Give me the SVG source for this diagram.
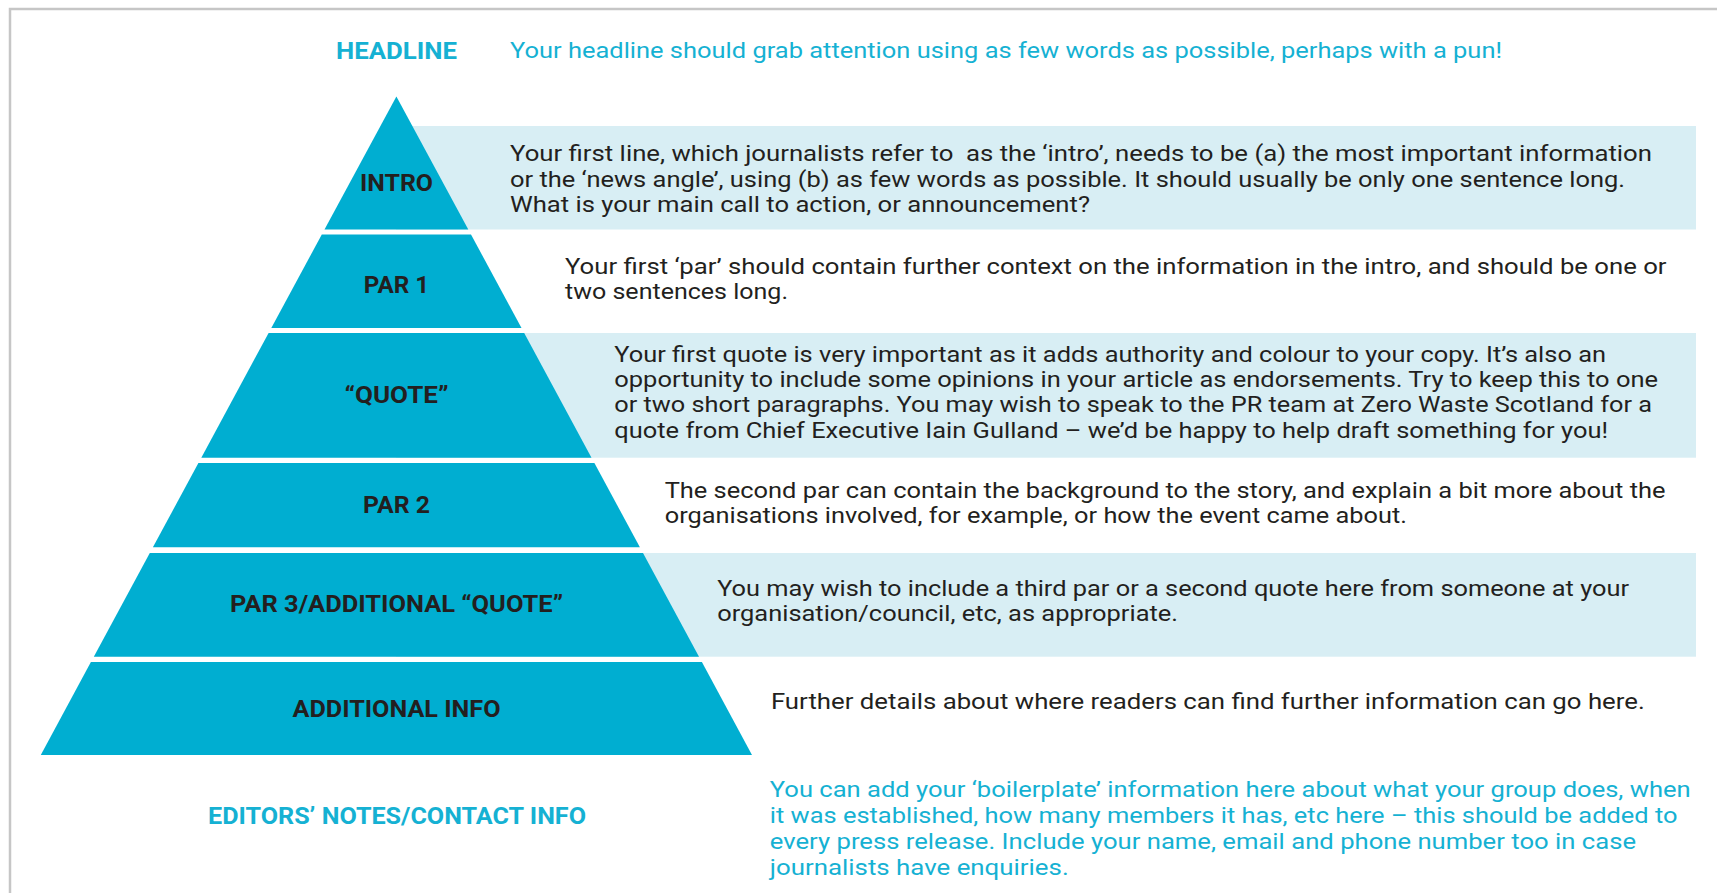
<svg xmlns="http://www.w3.org/2000/svg" width="1717" height="893" viewBox="0 0 1717 893">
<style>
.tri{fill:#00aed1}
.band{fill:#d8eef4}
.lbl{font-family:Roboto,"Liberation Sans",sans-serif;font-weight:bold;font-size:24px;fill:#231f20;text-anchor:middle}
.clbl{font-family:Roboto,"Liberation Sans",sans-serif;font-weight:bold;font-size:24px;fill:#15b1d3;text-anchor:middle}
.body{font-family:Roboto,"Liberation Sans",sans-serif;font-size:22.5px;fill:#231f20}
.cbody{font-family:Roboto,"Liberation Sans",sans-serif;font-size:22.5px;fill:#15b1d3}
.frame{fill:none;stroke:#c6c6c6;stroke-width:2.5}
</style>
<rect width="1717" height="893" fill="#ffffff"/>
<path class="frame" d="M10,893 V9 H1717"/>
<g id="bands">
<rect class="band" x="396" y="126" width="1300" height="103.5"/>
<rect class="band" x="396" y="333" width="1300" height="124.7"/>
<rect class="band" x="396" y="553" width="1300" height="103.7"/>
</g>
<g id="connectors"/>
<g id="headline">
<text class="clbl" x="396.5" y="58.5" textLength="121" lengthAdjust="spacingAndGlyphs">HEADLINE</text>
<text class="cbody" x="510" y="57.5" textLength="992" lengthAdjust="spacingAndGlyphs">Your headline should grab attention using as few words as possible, perhaps with a pun!</text>
</g>
<g id="intro">
<polygon class="tri" points="396.4,96.4 468.3,229.5 324.5,229.5"/>
<text class="lbl" x="396.5" y="190.5" textLength="73" lengthAdjust="spacingAndGlyphs">INTRO</text>
<text class="body" x="510" y="161" textLength="1142" lengthAdjust="spacingAndGlyphs" xml:space="preserve">Your first line, which journalists refer to  as the ‘intro’, needs to be (a) the most important information</text>
<text class="body" x="510" y="186.5" textLength="1115" lengthAdjust="spacingAndGlyphs">or the ‘news angle’, using (b) as few words as possible. It should usually be only one sentence long.</text>
<text class="body" x="510" y="212" textLength="580" lengthAdjust="spacingAndGlyphs">What is your main call to action, or announcement?</text>
</g>
<g id="par1">
<polygon class="tri" points="321.8,234.5 471,234.5 521.5,328 271.3,328"/>
<text class="lbl" x="396.5" y="292.5" textLength="65.5" lengthAdjust="spacingAndGlyphs">PAR 1</text>
<text class="body" x="565" y="273.5" textLength="1101.5" lengthAdjust="spacingAndGlyphs">Your first ‘par’ should contain further context on the information in the intro, and should be one or</text>
<text class="body" x="565" y="299" textLength="223" lengthAdjust="spacingAndGlyphs">two sentences long.</text>
</g>
<g id="quote">
<polygon class="tri" points="268.6,333 524.2,333 591.5,457.7 201.3,457.7"/>
<text class="lbl" x="396.5" y="403" textLength="104" lengthAdjust="spacingAndGlyphs">“QUOTE”</text>
<text class="body" x="614.3" y="361.5" textLength="991.7" lengthAdjust="spacingAndGlyphs">Your first quote is very important as it adds authority and colour to your copy. It’s also an</text>
<text class="body" x="614.3" y="387" textLength="1043.7" lengthAdjust="spacingAndGlyphs">opportunity to include some opinions in your article as endorsements. Try to keep this to one</text>
<text class="body" x="614.3" y="412" textLength="1037.7" lengthAdjust="spacingAndGlyphs">or two short paragraphs. You may wish to speak to the PR team at Zero Waste Scotland for a</text>
<text class="body" x="614.3" y="437.5" textLength="993.7" lengthAdjust="spacingAndGlyphs">quote from Chief Executive Iain Gulland – we’d be happy to help draft something for you!</text>
</g>
<g id="par2">
<polygon class="tri" points="198.4,463 594.4,463 639.9,547.3 152.9,547.3"/>
<text class="lbl" x="396.5" y="512.5" textLength="67" lengthAdjust="spacingAndGlyphs">PAR 2</text>
<text class="body" x="664.7" y="498" textLength="1000.8" lengthAdjust="spacingAndGlyphs">The second par can contain the background to the story, and explain a bit more about the</text>
<text class="body" x="664.7" y="523" textLength="742.3" lengthAdjust="spacingAndGlyphs">organisations involved, for example, or how the event came about.</text>
</g>
<g id="par3">
<polygon class="tri" points="149.8,553 643,553 699,656.7 93.8,656.7"/>
<text class="lbl" x="396.5" y="612" textLength="333" lengthAdjust="spacingAndGlyphs">PAR 3/ADDITIONAL “QUOTE”</text>
<text class="body" x="717.2" y="595.5" textLength="911.8" lengthAdjust="spacingAndGlyphs">You may wish to include a third par or a second quote here from someone at your</text>
<text class="body" x="717.2" y="620.7" textLength="460.8" lengthAdjust="spacingAndGlyphs">organisation/council, etc, as appropriate.</text>
</g>
<g id="additional">
<polygon class="tri" points="90.9,662 701.9,662 752,755 40.8,755"/>
<text class="lbl" x="396.5" y="717" textLength="208" lengthAdjust="spacingAndGlyphs">ADDITIONAL INFO</text>
<text class="body" x="770.9" y="709.4" textLength="873.8" lengthAdjust="spacingAndGlyphs">Further details about where readers can find further information can go here.</text>
</g>
<g id="editors">
<text class="clbl" x="397" y="823.5" textLength="378" lengthAdjust="spacingAndGlyphs">EDITORS’ NOTES/CONTACT INFO</text>
<text class="cbody" x="769.8" y="797" textLength="920.9" lengthAdjust="spacingAndGlyphs">You can add your ‘boilerplate’ information here about what your group does, when</text>
<text class="cbody" x="769.8" y="823" textLength="907.7" lengthAdjust="spacingAndGlyphs">it was established, how many members it has, etc here – this should be added to</text>
<text class="cbody" x="769.8" y="849" textLength="866.2" lengthAdjust="spacingAndGlyphs">every press release. Include your name, email and phone number too in case</text>
<text class="cbody" x="769.8" y="874.5" textLength="298.9" lengthAdjust="spacingAndGlyphs">journalists have enquiries.</text>
</g>
</svg>
